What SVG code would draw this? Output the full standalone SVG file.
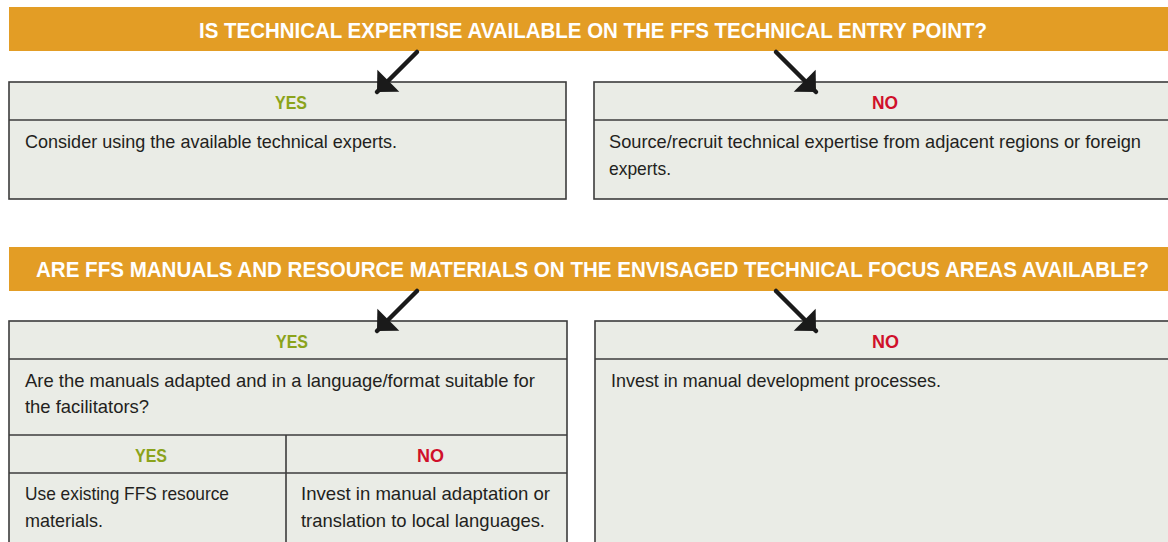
<svg xmlns="http://www.w3.org/2000/svg" width="1168" height="542" viewBox="0 0 1168 542">
<style>
.banner{fill:#E39D25}
.btxt{font-family:"Liberation Sans",Arial,sans-serif;font-weight:bold;font-size:22px;fill:#ffffff}
.box{fill:#EAECE6;stroke:#3c3c3c;stroke-width:1.6}
.div{stroke:#3c3c3c;stroke-width:1.6;fill:none}
.yes{font-family:"Liberation Sans",Arial,sans-serif;font-weight:bold;font-size:18px;fill:#8BA31B}
.no{font-family:"Liberation Sans",Arial,sans-serif;font-weight:bold;font-size:18px;fill:#D0102A}
.body{font-family:"Liberation Sans",Arial,sans-serif;font-size:19px;fill:#231F20}
.conn{stroke:#1a1a1a;stroke-width:4.5;fill:none;stroke-linecap:round}
</style>
<defs>
<marker id="head" markerUnits="userSpaceOnUse" viewBox="-17 -16 18 32" markerWidth="18" markerHeight="32" refX="0" refY="0" orient="auto">
<path d="M-16,-15.5 L0,0 L-16,15.5 Z" fill="#1a1a1a"/>
</marker>
</defs>
<rect width="1168" height="542" fill="#ffffff"/>

<g id="q1">
<rect class="banner" x="9" y="7" width="1159" height="44"/>
<text class="btxt" x="199" y="38" textLength="788" lengthAdjust="spacingAndGlyphs">IS TECHNICAL EXPERTISE AVAILABLE ON THE FFS TECHNICAL ENTRY POINT?</text>
</g>

<g id="q1-yes">
<rect class="box" x="9" y="82" width="557" height="117"/>
<line class="div" x1="9" y1="120" x2="566" y2="120"/>
<text class="yes" x="275" y="109" textLength="32" lengthAdjust="spacingAndGlyphs">YES</text>
<text class="body" x="25" y="148" textLength="372" lengthAdjust="spacingAndGlyphs">Consider using the available technical experts.</text>
</g>

<g id="q1-no">
<rect class="box" x="594" y="82" width="590" height="117"/>
<line class="div" x1="594" y1="120" x2="1168" y2="120"/>
<text class="no" x="872" y="109" textLength="26" lengthAdjust="spacingAndGlyphs">NO</text>
<text class="body" x="609" y="148" textLength="532" lengthAdjust="spacingAndGlyphs">Source/recruit technical expertise from adjacent regions or foreign</text>
<text class="body" x="609" y="175" textLength="62" lengthAdjust="spacingAndGlyphs">experts.</text>
</g>

<g id="q2">
<rect class="banner" x="9" y="247" width="1159" height="44"/>
<text class="btxt" x="36" y="277" textLength="1113" lengthAdjust="spacingAndGlyphs">ARE FFS MANUALS AND RESOURCE MATERIALS ON THE ENVISAGED TECHNICAL FOCUS AREAS AVAILABLE?</text>
</g>

<g id="q2-yes">
<rect class="box" x="9" y="321" width="558" height="240"/>
<line class="div" x1="9" y1="359" x2="567" y2="359"/>
<line class="div" x1="9" y1="435" x2="567" y2="435"/>
<text class="yes" x="276" y="348" textLength="32" lengthAdjust="spacingAndGlyphs">YES</text>
<text class="body" x="25" y="387" textLength="510" lengthAdjust="spacingAndGlyphs">Are the manuals adapted and in a language/format suitable for</text>
<text class="body" x="25" y="413" textLength="124" lengthAdjust="spacingAndGlyphs">the facilitators?</text>
</g>

<g id="q2-yes-yes">
<line class="div" x1="9" y1="473" x2="286" y2="473"/>
<text class="yes" x="135" y="462" textLength="32" lengthAdjust="spacingAndGlyphs">YES</text>
<text class="body" x="25" y="500" textLength="204" lengthAdjust="spacingAndGlyphs">Use existing FFS resource</text>
<text class="body" x="25" y="527" textLength="78" lengthAdjust="spacingAndGlyphs">materials.</text>
</g>

<g id="q2-yes-no">
<line class="div" x1="286" y1="435" x2="286" y2="560"/>
<line class="div" x1="286" y1="473" x2="567" y2="473"/>
<text class="no" x="417" y="462" textLength="27" lengthAdjust="spacingAndGlyphs">NO</text>
<text class="body" x="301" y="500" textLength="249" lengthAdjust="spacingAndGlyphs">Invest in manual adaptation or</text>
<text class="body" x="301" y="527" textLength="244" lengthAdjust="spacingAndGlyphs">translation to local languages.</text>
</g>

<g id="q2-no">
<rect class="box" x="595" y="321" width="590" height="240"/>
<line class="div" x1="595" y1="359" x2="1168" y2="359"/>
<text class="no" x="872" y="348" textLength="27" lengthAdjust="spacingAndGlyphs">NO</text>
<text class="body" x="611" y="387" textLength="330" lengthAdjust="spacingAndGlyphs">Invest in manual development processes.</text>
</g>

<g id="connectors">
<line class="conn" x1="417" y1="52" x2="377" y2="92" marker-end="url(#head)"/>
<line class="conn" x1="776" y1="52" x2="816" y2="92" marker-end="url(#head)"/>
<line class="conn" x1="417" y1="291" x2="377" y2="331" marker-end="url(#head)"/>
<line class="conn" x1="776" y1="291" x2="816" y2="331" marker-end="url(#head)"/>
</g>
</svg>
